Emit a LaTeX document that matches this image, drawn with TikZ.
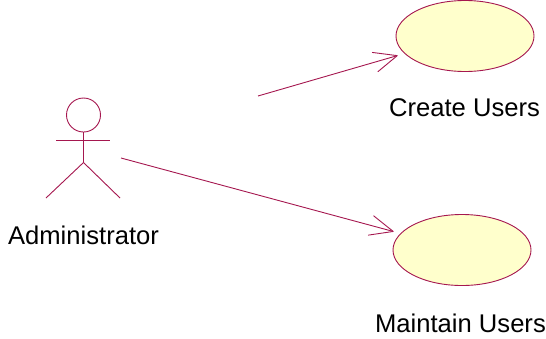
\documentclass[tikz,border=0pt]{standalone}
\usepackage{fontspec}
\setmainfont{Liberation Sans}
\usetikzlibrary{arrows.meta,shapes.geometric}
\definecolor{umlline}{HTML}{A5174F}
\definecolor{umlfill}{HTML}{FFFFCC}

\begin{document}
\begin{tikzpicture}[x=1pt,y=-1pt,line width=0.9pt,
    usecase/.style={ellipse,draw=umlline,fill=umlfill,minimum width=138pt,minimum height=71pt,inner sep=0pt},
    caption/.style={font=\fontsize{25.6}{30}\selectfont,inner sep=0pt},
    assoc/.style={draw=umlline,shorten >=7pt,-{Straight Barb[round,length=23pt,width=20pt,line width=0.9pt]}}]
    \useasboundingbox (0,0) rectangle (546,338);
    % use cases
    \node[usecase] (create) at (465,36) {};
    \node[usecase] (maintain) at (462,250) {};
    \node[caption] (create-label) at (464.5,108) {Create Users};
    \node[caption] (maintain-label) at (460.5,323) {Maintain Users};
    % actor
    \node[circle,draw=umlline,minimum size=34pt,inner sep=0pt] (head) at (83.5,115) {};
    \coordinate (hip) at (83.5,162.5);
    \coordinate (arm-l) at (56,140);
    \coordinate (arm-r) at (110,140);
    \coordinate (foot-l) at (46,198);
    \coordinate (foot-r) at (120,198);
    \draw[umlline] (head) -- (hip);
    \draw[umlline] (arm-l) -- (arm-r);
    \foreach \side in {l,r} {
        \draw[umlline] (hip) -- (foot-\side);
    }
    \node[caption] (actor-label) at (83.5,235) {Administrator};
    % associations
    \coordinate (start-create) at (258,96);
    \coordinate (start-maintain) at (121,158);
    \draw[assoc] (start-create) -- (create);
    \draw[assoc] (start-maintain) -- (maintain);
\end{tikzpicture}
\end{document}
